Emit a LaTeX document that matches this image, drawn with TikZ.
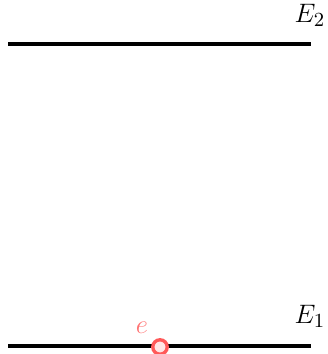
\documentclass[tikz,border=0pt]{standalone}
\begin{document}
\begin{tikzpicture}[x=0.45pt,y=-0.45pt,
  font=\fontsize{13}{15}\selectfont,
  level/.style={line width=1.8pt},
  lvllabel/.style={anchor=base},
  electron/.style={circle,draw=red!65,fill=red!10,line width=1.5pt,minimum size=6.5pt,inner sep=0pt},
  elabel/.style={anchor=base,text=red!55}]
\useasboundingbox (0,0) rectangle (327,354);
\coordinate (a1) at (8,44);
\coordinate (a2) at (311,44);
\coordinate (b1) at (8,346);
\coordinate (b2) at (311,346);
\draw[level] (a1) -- (a2);
\draw[level] (b1) -- (b2);
\node[lvllabel] (E2) at (310,23) {$E_2$};
\node[lvllabel] (E1) at (310,323) {$E_1$};
\node[electron] (e) at (160,347) {};
\node[elabel] (el) at (142,333) {$e$};
\end{tikzpicture}
\end{document}
